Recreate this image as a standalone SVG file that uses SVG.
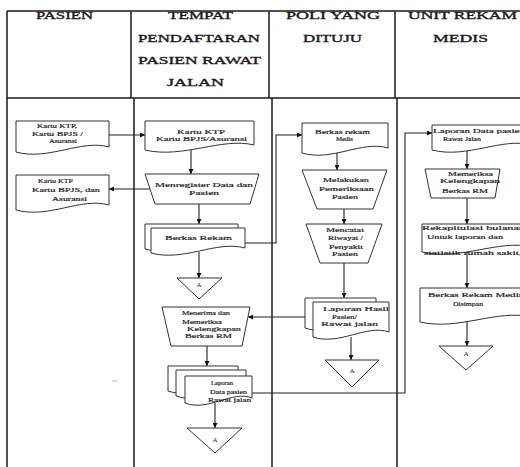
<svg xmlns="http://www.w3.org/2000/svg" width="520" height="467" viewBox="0 0 520 467">
<style>
.grid{stroke:#1a1a1a;stroke-width:1.5;fill:none}
.shape{fill:#fff;stroke:#333;stroke-width:1}
.con{fill:none;stroke:#222;stroke-width:1.1}
.h{font-family:"Liberation Serif","Times New Roman",serif;font-size:11px;font-weight:normal;fill:#1a1a1a;stroke:#1a1a1a;stroke-width:0.35;text-anchor:start}
.t{font-family:"Liberation Serif","Times New Roman",serif;font-size:7px;font-weight:normal;fill:#222;stroke:#222;stroke-width:0.2}
.a{font-family:"Liberation Serif","Times New Roman",serif;font-size:7px;fill:#222;text-anchor:middle}
</style>
<defs>
<marker id="ar" markerUnits="userSpaceOnUse" markerWidth="5" markerHeight="5" refX="5" refY="2.5" orient="auto">
<path d="M0,0 L5,2.5 L0,5 z" fill="#111"/>
</marker>
</defs>
<rect width="520" height="467" fill="#fff"/>
<g id="table">
<path class="grid" d="M7,11 H520 M7,98 H520 M7,11 V467 M131,11 V98 M269,11 V98 M395,11 V98 M134,98 V467 M272,98 V467 M397,98 V467"/>
<text class="h" x="36" y="19" textLength="57" lengthAdjust="spacingAndGlyphs">PASIEN</text>
<text class="h" x="168" y="19" textLength="65" lengthAdjust="spacingAndGlyphs">TEMPAT</text>
<text class="h" x="138" y="42" textLength="122" lengthAdjust="spacingAndGlyphs">PENDAFTARAN</text>
<text class="h" x="138" y="64" textLength="123" lengthAdjust="spacingAndGlyphs">PASIEN RAWAT</text>
<text class="h" x="167" y="86" textLength="57" lengthAdjust="spacingAndGlyphs">JALAN</text>
<text class="h" x="286" y="19" textLength="94" lengthAdjust="spacingAndGlyphs">POLI YANG</text>
<text class="h" x="303" y="42" textLength="59" lengthAdjust="spacingAndGlyphs">DITUJU</text>
<text class="h" x="408" y="19" textLength="109" lengthAdjust="spacingAndGlyphs">UNIT REKAM</text>
<text class="h" x="433" y="42" textLength="55" lengthAdjust="spacingAndGlyphs">MEDIS</text>
</g>
<g id="connectors">
<path class="con" d="M109,135 H145" marker-end="url(#ar)"/>
<path class="con" d="M150,189 H109" marker-end="url(#ar)"/>
<path class="con" d="M191,150 V174" marker-end="url(#ar)"/>
<path class="con" d="M199,204 V224" marker-end="url(#ar)"/>
<path class="con" d="M245,243 H276 V135 H302" marker-end="url(#ar)"/>
<path class="con" d="M199,252 V278" marker-end="url(#ar)"/>
<path class="con" d="M207,346 V366" marker-end="url(#ar)"/>
<path class="con" d="M305,317 H248" marker-end="url(#ar)"/>
<path class="con" d="M252,393 H405 V133 H432" marker-end="url(#ar)"/>
<path class="con" d="M215,403 V428" marker-end="url(#ar)"/>
<path class="con" d="M337,152 V170" marker-end="url(#ar)"/>
<path class="con" d="M344,209 V224" marker-end="url(#ar)"/>
<path class="con" d="M344,263 V298" marker-end="url(#ar)"/>
<path class="con" d="M351,337 V360" marker-end="url(#ar)"/>
<path class="con" d="M467,149 V169" marker-end="url(#ar)"/>
<path class="con" d="M467,198 V224" marker-end="url(#ar)"/>
<path class="con" d="M467,253 V288" marker-end="url(#ar)"/>
<path class="con" d="M467,322 V346" marker-end="url(#ar)"/>
</g>
<g id="doc-pasien-1">
<path class="shape" d="M16,121 H109 V147 C81.1,139 48.55,161 16,152 Z"/>
<text class="t" x="37" y="128" textLength="40" lengthAdjust="spacingAndGlyphs">Kartu KTP,</text>
<text class="t" x="32" y="136" textLength="51" lengthAdjust="spacingAndGlyphs">Kartu BPJS /</text>
<text class="t" x="49" y="143" textLength="28" lengthAdjust="spacingAndGlyphs">Asuransi</text>
</g>
<g id="doc-pasien-2">
<path class="shape" d="M16,175 H109 V205 C81.1,197 48.55,219 16,210 Z"/>
<text class="t" x="38" y="183" textLength="35" lengthAdjust="spacingAndGlyphs">Kartu KTP</text>
<text class="t" x="32" y="192" textLength="68" lengthAdjust="spacingAndGlyphs">Kartu BPJS, dan</text>
<text class="t" x="52" y="201" textLength="35" lengthAdjust="spacingAndGlyphs">Asuransi</text>
</g>
<g id="doc-tppri">
<path class="shape" d="M145,121 H254 V145 C221.3,137 183.15,159 145,150 Z"/>
<text class="t" x="177" y="134" textLength="48" lengthAdjust="spacingAndGlyphs">Kartu KTP</text>
<text class="t" x="156" y="141" textLength="91" lengthAdjust="spacingAndGlyphs">Kartu BPJS/Asuransi</text>
</g>
<g id="proc-register">
<polygon class="shape" points="145,174 259,174 250,204 155,204"/>
<text class="t" x="155" y="187" textLength="98" lengthAdjust="spacingAndGlyphs">Menregister Data dan</text>
<text class="t" x="189" y="195" textLength="30" lengthAdjust="spacingAndGlyphs">Pasien</text>
</g>
<g id="doc-berkas-rekam">
<path class="shape" d="M145,224 H238 V244 C210.1,236 177.55,258 145,249 Z"/>
<path class="shape" d="M151,228 H245 V248 C216.8,240 183.9,262 151,253 Z"/>
<text class="t" x="165" y="240" textLength="67" lengthAdjust="spacingAndGlyphs">Berkas Rekam</text>
</g>
<g id="off-a1">
<polygon class="shape" points="177,278 222,278 199,299"/>
<text class="a" x="199" y="287">A</text>
</g>
<g id="proc-menerima">
<polygon class="shape" points="162,307 250,307 242,346 171,346"/>
<text class="t" x="182" y="315" textLength="48" lengthAdjust="spacingAndGlyphs">Menerima dan</text>
<text class="t" x="182" y="324" textLength="40" lengthAdjust="spacingAndGlyphs">Memeriksa</text>
<text class="t" x="187" y="331" textLength="54" lengthAdjust="spacingAndGlyphs">Kelengkapan</text>
<text class="t" x="185" y="338" textLength="47" lengthAdjust="spacingAndGlyphs">Berkas RM</text>
</g>
<g id="doc-laporan-data">
<path class="shape" d="M168,366 H238 V386 C217,378 192.5,400 168,391 Z"/>
<path class="shape" d="M176,370 H246 V391 C225,383 200.5,405 176,396 Z"/>
<path class="shape" d="M185,376 H252 V398 C231.9,390 208.45,412 185,403 Z"/>
<text class="t" x="211" y="385" textLength="22" lengthAdjust="spacingAndGlyphs">Laporan</text>
<text class="t" x="210" y="394" textLength="37" lengthAdjust="spacingAndGlyphs">Data pasien</text>
<text class="t" x="208" y="402" textLength="43" lengthAdjust="spacingAndGlyphs">Rawat jalan</text>
</g>
<g id="off-a2">
<polygon class="shape" points="187,428 242,428 215,453"/>
<text class="a" x="215" y="442">A</text>
</g>
<g id="doc-berkas-medis">
<path class="shape" d="M302,123 H388 V148 C362.2,140 332.1,162 302,153 Z"/>
<text class="t" x="315" y="134" textLength="55" lengthAdjust="spacingAndGlyphs">Berkas rekam</text>
<text class="t" x="336" y="141" textLength="17" lengthAdjust="spacingAndGlyphs">Medis</text>
</g>
<g id="proc-pemeriksaan">
<polygon class="shape" points="302,170 387,170 373,209 317,209"/>
<text class="t" x="323" y="182" textLength="46" lengthAdjust="spacingAndGlyphs">Melakukan</text>
<text class="t" x="319" y="191" textLength="55" lengthAdjust="spacingAndGlyphs">Pemeriksaan</text>
<text class="t" x="332" y="199" textLength="26" lengthAdjust="spacingAndGlyphs">Pasien</text>
</g>
<g id="proc-mencatat">
<polygon class="shape" points="306,224 382,224 368,263 320,263"/>
<text class="t" x="326" y="232" textLength="38" lengthAdjust="spacingAndGlyphs">Mencatat</text>
<text class="t" x="328" y="240" textLength="35" lengthAdjust="spacingAndGlyphs">Riwayat /</text>
<text class="t" x="329" y="249" textLength="34" lengthAdjust="spacingAndGlyphs">Penyakit</text>
<text class="t" x="332" y="256" textLength="26" lengthAdjust="spacingAndGlyphs">Pasien</text>
</g>
<g id="doc-laporan-hasil">
<path class="shape" d="M305,298 H376 V323 C354.7,315 329.85,337 305,328 Z"/>
<path class="shape" d="M313,302 H389 V332 C366.2,324 339.6,346 313,337 Z"/>
<text class="t" x="323" y="311" textLength="66" lengthAdjust="spacingAndGlyphs">Laporan Hasil</text>
<text class="t" x="332" y="319" textLength="25" lengthAdjust="spacingAndGlyphs">Pasien/</text>
<text class="t" x="321" y="326" textLength="57" lengthAdjust="spacingAndGlyphs">Rawat   jalan</text>
</g>
<g id="off-a3">
<polygon class="shape" points="325,360 379,360 352,387"/>
<text class="a" x="352" y="373">A</text>
</g>
<g id="doc-laporan-rm">
<path class="shape" d="M432,125 H532 V145 C502,137 467,159 432,150 Z"/>
<text class="t" x="433" y="133" textLength="92" lengthAdjust="spacingAndGlyphs">Laporan Data pasien</text>
<text class="t" x="443" y="141" textLength="38" lengthAdjust="spacingAndGlyphs">Rawat Jalan</text>
</g>
<g id="proc-memeriksa">
<polygon class="shape" points="425,169 500,169 495,198 431,198"/>
<text class="t" x="448" y="176" textLength="45" lengthAdjust="spacingAndGlyphs">Memeriksa</text>
<text class="t" x="440" y="183" textLength="60" lengthAdjust="spacingAndGlyphs">Kelengkapan</text>
<text class="t" x="442" y="193" textLength="46" lengthAdjust="spacingAndGlyphs">Berkas RM</text>
</g>
<g id="doc-rekapitulasi">
<path class="shape" d="M422,224 H532 V247 C499,239 460.5,261 422,252 Z"/>
<text class="t" x="422" y="230" textLength="103" lengthAdjust="spacingAndGlyphs">Rekapitulasi bulanan</text>
<text class="t" x="427" y="239" textLength="76" lengthAdjust="spacingAndGlyphs">Untuk laporan dan</text>
<text class="t" x="424" y="255" textLength="98" lengthAdjust="spacingAndGlyphs">statistik rumah sakit,</text>
</g>
<g id="doc-disimpan">
<path class="shape" d="M420,288 H530 V317 C497,309 458.5,331 420,322 Z"/>
<text class="t" x="428" y="297" textLength="95" lengthAdjust="spacingAndGlyphs">Berkas Rekam Medis</text>
<text class="t" x="453" y="306" textLength="30" lengthAdjust="spacingAndGlyphs">Disimpan</text>
</g>
<g id="off-a4">
<polygon class="shape" points="439,346 493,346 466,370"/>
<text class="a" x="466" y="356">A</text>
</g>
<path d="M112,381 H117" stroke="#999" stroke-width="0.8"/>
</svg>
